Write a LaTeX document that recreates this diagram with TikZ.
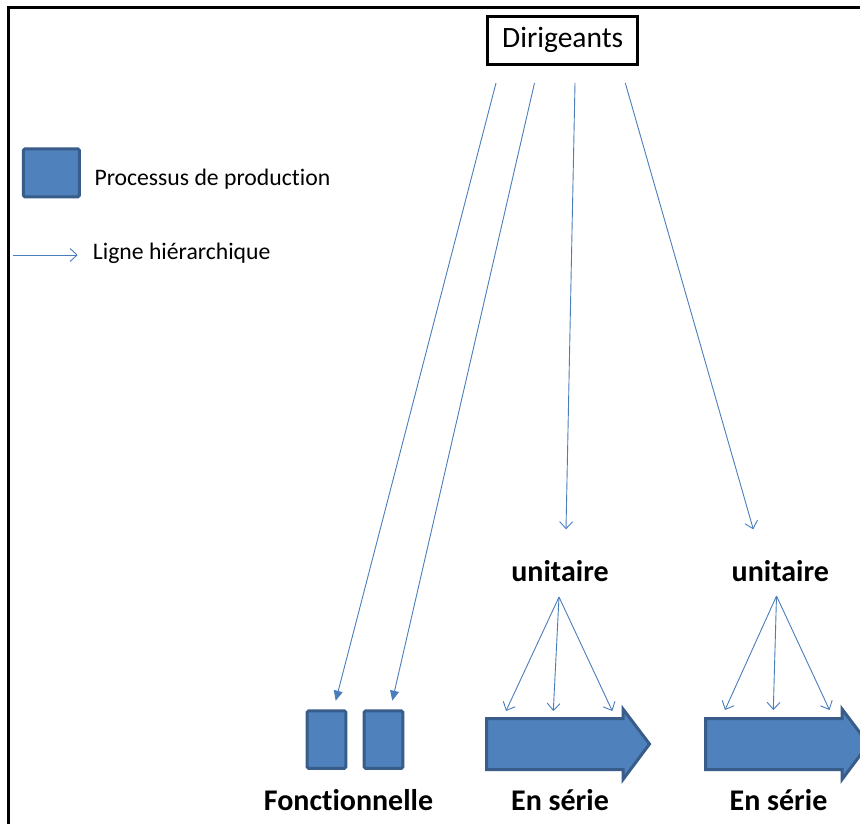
\documentclass[tikz,border=0pt]{standalone}
\usepackage{fontspec}
\setmainfont{Carlito}[Ligatures={NoCommon}]
\usetikzlibrary{arrows.meta}
\definecolor{procfill}{HTML}{4F81BD}
\definecolor{procedge}{HTML}{385D8A}
\definecolor{hier}{HTML}{4A7EBB}
\begin{document}
\begin{tikzpicture}[x=1pt,y=-1pt,
  hline/.style={draw=hier, line width=0.9pt, -{Straight Barb[length=7pt,width=13pt,line width=0.9pt]}},
  fline/.style={draw=hier, line width=0.9pt, -{Triangle[length=10pt,width=9pt,fill=hier]}},
  proc/.style={fill=procfill, draw=procedge, line width=3pt, rounded corners=1.5pt},
  boxnode/.style={proc, inner sep=0pt},
  big/.style={font=\fontsize{30}{36}\selectfont\bfseries, anchor=base, inner sep=0pt},
  legtext/.style={font=\fontsize{23.7}{28}\selectfont, anchor=base west, inner sep=0pt},
]
\clip (0,0) rectangle (860,823);
\useasboundingbox (0,0) rectangle (860,823);
\fill[white] (0,0) rectangle (860,823);
% frame
\draw[line width=2.5pt] (8.5,840) -- (8.5,7.5) -- (880,7.5);

% Dirigeants
\node[draw, line width=3pt, minimum width=150pt, minimum height=48pt, inner sep=0pt,
      font=\fontsize{29.5}{34}\selectfont] (dir) at (562.7,40.2) {Dirigeants};

% legend
\node[boxnode, minimum width=56pt, minimum height=48pt] (leg) at (51.4,172.8) {};
\node[legtext] (legtxt) at (94.3,185) {Processus de production};
\coordinate (la) at (13,255);
\coordinate (lb) at (77.7,255);
\draw[hline] (la) -- (lb);
\node[legtext] (legline) at (92.7,259.3) {Ligne hiérarchique};

% functional boxes
\node[boxnode, minimum width=38.6pt, minimum height=57.7pt] (f1) at (326.5,739.6) {};
\node[boxnode, minimum width=38.6pt, minimum height=57.7pt] (f2) at (383.5,739.6) {};

% block arrows
\draw[proc, rounded corners=0pt, line join=miter] (486.5,718.5) -- (623,718.5) -- (623,709) -- (649.5,744) -- (623,779.5) -- (623,769.5) -- (486.5,769.5) -- cycle;
\draw[proc, rounded corners=0pt, line join=miter] (705.5,718.5) -- (842,718.5) -- (842,709) -- (868.5,744) -- (842,779.5) -- (842,769.5) -- (705.5,769.5) -- cycle;

% labels
\node[big] (u1) at (560,581.7) {unitaire};
\node[big] (u2) at (780.3,581.7) {unitaire};
\node[big] (fonc) at (348.5,810) {Fonctionnelle};
\node[big] (s1) at (560,810) {En série};
\node[big] (s2) at (778.5,810) {En série};

% hierarchy lines from Dirigeants
\coordinate (d1) at (496,83);
\coordinate (d2) at (534.5,83);
\coordinate (d3) at (575,83);
\coordinate (d4) at (625.3,83);
\coordinate (t1) at (335.7,700.7);
\coordinate (t2) at (392.3,700.7);
\coordinate (t3) at (566,529.3);
\coordinate (t4) at (753.3,529.3);
\draw[fline] (d1) -- (t1);
\draw[fline] (d2) -- (t2);
\draw[hline] (d3) -- (t3);
\draw[hline] (d4) -- (t4);

% unitaire fans
\coordinate (o1) at (559,597);
\coordinate (o2) at (776.5,596);
\coordinate (e11) at (506,711);
\coordinate (e12) at (553.3,711);
\coordinate (e13) at (612.3,711);
\coordinate (e21) at (725,710);
\coordinate (e22) at (773.3,710);
\coordinate (e23) at (829.5,710);
\foreach \e in {e11,e12,e13} \draw[hline] (o1) -- (\e);
\foreach \e in {e21,e22,e23} \draw[hline] (o2) -- (\e);
\end{tikzpicture}
\end{document}
